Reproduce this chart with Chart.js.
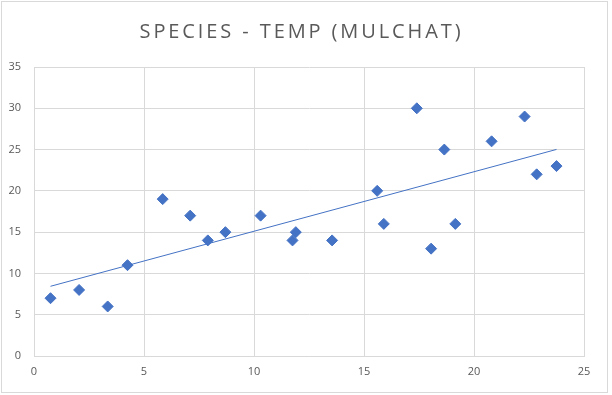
<!DOCTYPE html>
<html>
<head>
<meta charset="utf-8">
<script src="https://cdn.jsdelivr.net/npm/chart.js@4"></script>
<style>
  html, body { margin: 0; padding: 0; background: #fff; }
  #wrap { position: relative; width: 612px; height: 395px; }
  #frame { position: absolute; left: 1px; top: 1px; width: 605px; height: 390px; border: 1px solid #d9d9d9; pointer-events: none; }
  #title { position: absolute; left: 0; top: 17px; width: 603px; text-align: center;
           font-family: "Open Sans", sans-serif; font-size: 20px; letter-spacing: 2.9px; color: #595959; }
  canvas { position: absolute; left: 0; top: 0; }
</style>
</head>
<body>
<div id="wrap">
  <canvas id="scatterChart" width="612" height="395"></canvas>
  <div id="title">SPECIES - TEMP (MULCHAT)</div>
  <div id="frame"></div>
</div>
<script>
// temperature (x) and species count (y)
const tempValues = [0.75, 2.05, 3.35, 4.25, 5.85, 7.1, 7.9, 8.7, 10.3, 11.75, 11.9,
                    13.55, 15.6, 15.9, 17.4, 18.05, 18.65, 19.15, 20.8, 22.3, 22.85, 23.75];
const speciesValues = [7, 8, 6, 11, 19, 17, 14, 15, 17, 14, 15,
                       14, 20, 16, 30, 13, 25, 16, 26, 29, 22, 23];
const xTicks = [0, 5, 10, 15, 20, 25];
const yTicks = [0, 5, 10, 15, 20, 25, 30, 35];

const blue = '#4472C4';
const tickFont = { family: 'Open Sans', size: 11 };

// least squares trendline (like Excel's linear trendline)
function linearFit(xs, ys) {
    const n = xs.length;
    const mx = xs.reduce((a, b) => a + b, 0) / n;
    const my = ys.reduce((a, b) => a + b, 0) / n;
    let sxy = 0, sxx = 0;
    for (let i = 0; i < n; i++) {
        sxy += (xs[i] - mx) * (ys[i] - my);
        sxx += (xs[i] - mx) * (xs[i] - mx);
    }
    const slope = sxy / sxx;
    return { slope, intercept: my - slope * mx };
}

const fit = linearFit(tempValues, speciesValues);
const xMin = Math.min(...tempValues);
const xMax = Math.max(...tempValues);
const trendPoints = [
    { x: xMin, y: fit.intercept + fit.slope * xMin },
    { x: xMax, y: fit.intercept + fit.slope * xMax }
];

const ctx = document.getElementById('scatterChart').getContext('2d');
new Chart(ctx, {
    type: 'scatter',
    data: {
        datasets: [{
            label: 'Species',
            data: tempValues.map((t, i) => ({ x: t, y: speciesValues[i] })),
            pointStyle: 'rectRot',
            pointRadius: 5.5,
            backgroundColor: blue,
            borderColor: blue,
            borderWidth: 1,
            order: 1
        }, {
            type: 'line',
            label: 'Trend',
            data: trendPoints,
            borderColor: blue,
            borderWidth: 1,
            pointRadius: 0,
            fill: false,
            order: 2
        }]
    },
    options: {
        responsive: false,
        animation: false,
        layout: { padding: { top: 67, right: 28, bottom: 0, left: 0 } },
        plugins: {
            legend: { display: false },
            tooltip: { enabled: false }
        },
        scales: {
            x: {
                type: 'linear',
                min: 0,
                max: 25,
                afterBuildTicks: axis => { axis.ticks = xTicks.map(v => ({ value: v })); },
                afterFit: axis => { axis.height = 39; },
                grid: { color: '#d9d9d9', drawTicks: false },
                border: { color: '#d9d9d9' },
                ticks: { font: tickFont, color: '#595959', padding: 9 }
            },
            y: {
                min: 0,
                max: 35,
                afterBuildTicks: axis => { axis.ticks = yTicks.map(v => ({ value: v })); },
                afterFit: axis => { axis.width = 34; },
                grid: { color: '#d9d9d9', drawTicks: false },
                border: { color: '#d9d9d9' },
                ticks: { font: tickFont, color: '#595959', padding: 13 }
            }
        }
    }
});
</script>
</body>
</html>
